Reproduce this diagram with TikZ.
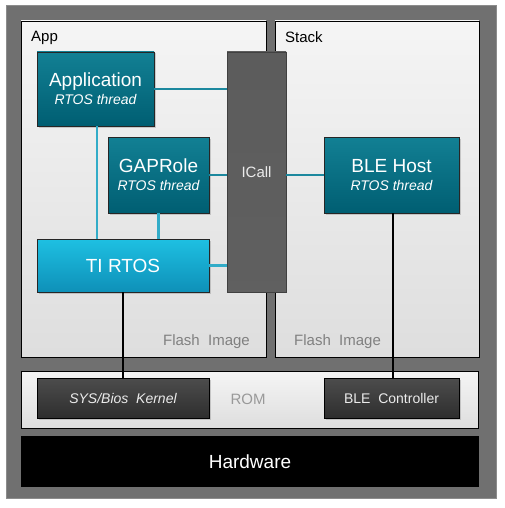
\documentclass[tikz,border=0pt]{standalone}
\usepackage{fontspec}
\setmainfont{Liberation Sans}
\usetikzlibrary{positioning, calc, shadows}
\definecolor{tealtop}{RGB}{18,128,148}
\definecolor{tealbot}{RGB}{0,94,114}
\definecolor{cyantop}{RGB}{30,192,226}
\definecolor{cyanbot}{RGB}{14,144,184}
\definecolor{tealline}{RGB}{28,136,158}
\definecolor{cyanline}{RGB}{50,172,200}
\definecolor{framegray}{RGB}{112,112,112}
\definecolor{callgray}{RGB}{104,104,104}

\begin{document}
\begin{tikzpicture}[x=1pt, y=-1pt,
	sz/.style 2 args={minimum width=#1pt, minimum height=#2pt, inner sep=0pt},
	fs/.style={font=\fontsize{#1}{#1}\selectfont},
	pnl/.style={draw=black, line width=.7pt, top color=black!4, bottom color=black!13},
	thr/.style={draw=black!85, line width=.6pt, top color=tealtop, bottom color=tealbot, text=white, align=center,
		font=\fontsize{19}{19}\selectfont, drop shadow={shadow xshift=1.5pt, shadow yshift=-1.5pt, opacity=.35}},
	rom/.style={draw=black, line width=.6pt, top color=black!70, bottom color=black!82, text=white!92!black,
		font=\fontsize{14}{14}\selectfont, drop shadow={shadow xshift=1.5pt, shadow yshift=-1.5pt, opacity=.35}},
	cl/.style={line width=2.6pt, color=#1},
	kl/.style={line width=2.6pt, color=black}]
	\useasboundingbox (0,0) rectangle (505,508);
	\node[sz={490}{492}, fill=framegray, draw=black!45, line width=1pt] (frame) at (251,252) {};
	\node[pnl, sz={245}{336}] (app) at (143.5,189) {}; \node[pnl, sz={204}{336}] (stack) at (377,189) {};
	\node[pnl, sz={457}{57}] (rombar) at (249.5,399.5) {};
	\node[sz={458}{51}, fill=black, text=white, fs=19] (hw) at (250,461.5) {Hardware};
	\node[fs=15, anchor=north west] at ($(app.north west)+(7,7)$) {App};
	\node[fs=15, anchor=north west] at ($(stack.north west)+(7,7)$) {Stack};
	\node[fs=15, text=black!50, anchor=south east] at ($(app.south east)+(-13,-5)$) {Flash\ \ Image};
	\node[fs=15, text=black!50, anchor=south west] at ($(stack.south west)+(16,-5)$) {Flash\ \ Image};
	\node[fs=15, text=black!40] at (248,399.5) {ROM};

	\node[thr, sz={117}{74}] (appl) at (95.5,89) {Application\\[-1pt]{\fontsize{14}{14}\selectfont\itshape RTOS thread}};
	\node[thr, sz={101}{76}] (gap) at (158.5,175) {GAPRole\\[-1pt]{\fontsize{14}{14}\selectfont\itshape RTOS thread}};
	\node[thr, sz={135}{76}] (host) at (391.5,175) {BLE Host\\[-1pt]{\fontsize{14}{14}\selectfont\itshape RTOS thread}};
	\node[thr, sz={172}{53}, top color=cyantop, bottom color=cyanbot] (rtos) at (123,265.5) {TI RTOS};
	\node[sz={59}{240}, draw=black!75, line width=.6pt, top color=callgray!108, bottom color=callgray!92!black,
		text=black!8, fs=15] (icall) at (256.5,172) {ICall};
	\node[rom, sz={172}{40}] (kern) at (123,398) {\itshape SYS/Bios\ \ Kernel};
	\node[rom, sz={135}{40}] (ctrl) at (391.5,398) {BLE\ \ Controller};

	\draw[cl=tealline] (appl.east) -- (appl.east -| icall.west);
	\draw[cl=tealline] (gap.east) -- (gap.east -| icall.west);
	\draw[cl=tealline] (host.west) -- (host.west -| icall.east);
	\draw[cl=cyanline] (rtos.east) -- (rtos.east -| icall.west);
	\draw[cl=cyanline] ($(appl.south)+(1.5,0)$) -- ($(appl.south |- rtos.north)+(1.5,0)$);
	\draw[cl=cyanline] (gap.south) -- (gap.south |- rtos.north);
	\draw[kl] (rtos.south) -- (kern.north);
	\draw[kl] ($(host.south)+(1.5,0)$) -- ($(ctrl.north)+(1.5,0)$);
\end{tikzpicture}
\end{document}
